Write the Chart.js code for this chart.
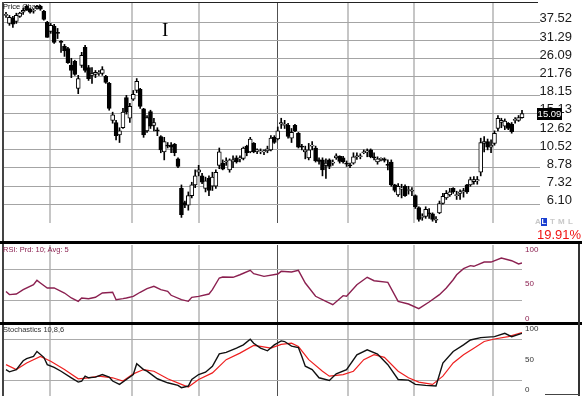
<!DOCTYPE html>
<html><head><meta charset="utf-8">
<script src="https://cdn.jsdelivr.net/npm/chart.js@4.4.1/dist/chart.umd.min.js"></script>
<style>
html,body{margin:0;padding:0;background:#fff;}
#wrap{position:relative;width:582px;height:396px;overflow:hidden;background:#fff;font-family:'Liberation Sans',Arial,sans-serif;}
.pane{position:absolute;left:0;width:582px;}
.ln{position:absolute;}
.tx{position:absolute;white-space:nowrap;line-height:1;}
</style></head><body>
<div id="wrap">
  <div class="pane" style="top:0;height:241px"><canvas id="cPrice" width="582" height="241"></canvas></div>
  <div class="pane" style="top:244px;height:78px"><canvas id="cRsi" width="582" height="78"></canvas></div>
  <div class="pane" style="top:325px;height:71px"><canvas id="cSto" width="582" height="71"></canvas></div>

  <div class="ln" style="left:2px;top:2px;width:536px;height:1px;background:#222"></div>
  <div class="ln" style="left:2px;top:2px;width:2px;height:394px;background:#444"></div>
  <div class="ln" style="left:0;top:241px;width:582px;height:3px;background:#000"></div>
  <div class="ln" style="left:0;top:322px;width:582px;height:3px;background:#000"></div>
  <div class="ln" style="left:578px;top:244px;width:2px;height:152px;background:#333"></div>
  <div class="ln" style="left:545px;top:394px;width:35px;height:1px;background:#444"></div>

  <div class="tx" style="left:3px;top:3px;font-size:7.5px;color:#111">Price Chart</div>
  <div class="tx" style="left:162px;top:20px;font-size:19px;font-family:'Liberation Serif',serif;color:#000">I</div>
  <div class="tx" style="left:3px;top:246px;font-size:7.5px;color:#8b2050">RSI: Prd: 10; Avg: 5</div>
  <div class="tx" style="left:3px;top:326px;font-size:7.5px;color:#333">Stochastics 10,8,6</div>
  <div class="tx" style="left:535px;top:218px;font-size:8px;font-weight:bold;color:#c8c8c8;letter-spacing:0">A</div>
  <div class="tx" style="left:541px;top:218px;width:6px;height:8px;background:#1a3fd0;font-size:8px;font-weight:bold;color:#fff;text-align:center">L</div>
  <div class="tx" style="left:550px;top:218px;font-size:8px;font-weight:bold;color:#c8c8c8;word-spacing:1px">T M L</div>
  <div class="tx" style="left:537px;top:228px;font-size:13px;color:#f01414">19.91%</div>
</div>
<script>
// ---------- data ----------
const priceTicks = [37.52, 31.29, 26.09, 21.76, 18.15, 15.13, 12.62, 10.52, 8.78, 7.32, 6.10];
const monthStarts = [12.8, 36.6, 56.1, 78.8, 99.4, 118.6, 141.6];
const yearStarts = [78.8];

const opens = [40.2,37.1,39.0,37.9,39.8,41.5,44.0,42.8,41.9,43.2,44.0,41.9,37.5,34.3,36.1,33.9,31.0,29.5,28.9,24.4,
25.4,19.4,24.4,29.2,23.9,22.1,22.3,22.5,22.5,21.9,20.4,14.1,13.8,12.2,13.1,17.7,14.4,17.4,19.0,19.2,
15.8,12.7,15.4,13.4,12.8,12.0,10.3,11.0,11.0,11.1,9.6,7.15,6.2,6.05,6.65,7.4,8.4,8.1,7.15,7.9,
7.3,7.3,9.0,9.2,9.3,8.6,9.3,9.7,9.6,9.65,10.9,10.3,11.2,10.4,10.3,10.3,10.4,10.5,11.9,11.7,
13.6,13.4,13.4,11.8,13.4,12.4,10.9,10.3,9.7,10.9,10.7,9.5,9.5,9.0,9.5,9.2,9.7,9.85,9.7,9.2,
9.0,9.2,9.8,9.8,10.2,10.3,10.5,9.8,9.3,9.55,9.6,9.1,9.3,7.4,6.7,7.1,7.3,7.0,6.95,6.65,
5.9,5.35,5.4,5.6,5.55,5.2,5.6,6.15,6.5,6.7,7.15,6.65,6.8,6.9,7.4,7.4,7.65,7.7,8.4,11.2,
11.4,10.8,11.2,13.0,13.8,13.3,13.7,13.55,14.1,14.1,14.5];
const highs = [41.5,40.2,39.8,41.1,41.5,43.2,44.5,43.2,42.8,44.5,44.5,42.3,37.9,37.1,36.8,35.3,31.3,30.1,29.2,26.2,
25.7,22.1,27.8,29.8,24.4,23.9,23.2,23.2,24.1,22.1,20.6,15.3,14.1,13.1,15.9,18.1,16.7,19.0,21.4,19.4,
15.9,14.8,15.6,14.4,13.1,12.1,11.9,11.3,11.3,11.2,9.7,7.4,6.3,6.9,7.6,8.6,9.0,8.3,8.0,8.1,
8.4,8.6,10.7,9.5,9.7,9.6,9.9,9.9,9.9,10.8,11.0,11.9,11.3,10.6,10.6,10.5,10.9,12.1,12.1,13.2,
14.4,14.1,13.7,13.0,13.55,12.5,11.1,10.9,11.2,11.4,10.9,9.7,9.7,9.6,9.6,9.5,10.1,9.9,9.85,9.4,
9.2,10.2,10.2,10.1,10.5,10.6,10.6,10.2,9.8,9.7,9.7,9.5,9.5,7.45,7.5,7.45,7.4,7.3,7.2,6.7,
5.95,5.55,5.95,5.85,5.6,5.4,6.3,6.8,7.0,7.15,7.2,6.95,7.05,7.15,7.45,8.0,8.05,8.05,11.8,12.0,
11.7,11.6,12.7,14.8,14.4,14.3,13.8,13.8,14.5,14.8,15.6];
const lows = [39.4,36.4,35.7,37.1,39.4,40.6,42.3,41.1,41.1,42.8,42.3,38.3,32.3,33.6,30.4,31.9,27.8,26.7,24.9,21.6,
22.1,18.4,23.9,22.8,21.0,20.4,21.6,22.1,22.1,20.4,15.6,13.7,11.6,11.3,13.0,15.0,13.8,17.2,18.6,15.9,
11.9,12.5,13.0,12.7,12.1,10.2,9.5,10.7,10.2,9.9,8.8,5.35,5.9,5.75,6.5,7.2,8.1,7.5,6.9,6.65,
7.0,7.15,8.7,8.6,9.0,8.4,8.8,9.2,9.3,9.5,9.9,10.2,10.2,10.1,10.1,10.0,10.2,10.4,11.2,11.6,
13.0,13.0,11.8,11.3,12.6,10.7,10.5,9.6,9.5,10.5,9.3,9.1,8.1,7.9,8.7,9.0,9.55,9.2,9.2,8.9,
8.8,9.1,9.55,9.6,10.1,9.8,9.7,9.5,9.1,9.4,9.3,8.6,7.3,6.9,6.6,6.5,6.6,6.75,6.65,5.85,
5.15,5.2,5.3,5.3,5.15,5.07,5.55,6.1,6.4,6.6,6.8,6.4,6.4,6.55,6.8,7.3,7.45,7.45,8.1,10.3,
10.5,10.2,11.0,12.7,13.1,12.85,12.85,12.4,13.7,13.95,14.4];
const closes = [40.6,39.4,36.8,40.2,41.1,42.3,42.3,41.5,42.0,44.0,42.8,38.6,32.3,36.4,30.7,33.6,30.7,28.3,25.1,23.2,
22.3,21.4,27.0,23.2,21.4,22.5,22.8,22.8,23.4,20.6,15.9,14.9,12.1,12.7,15.3,15.3,16.2,18.3,20.8,16.2,
12.2,14.5,13.3,13.8,12.7,10.5,11.4,10.9,10.8,10.2,8.9,5.5,6.05,6.65,7.4,8.1,8.6,7.6,7.7,7.0,
8.0,8.4,10.3,8.65,9.35,9.5,9.5,9.3,9.65,10.7,10.2,11.7,10.3,10.45,10.4,10.35,10.6,11.8,11.3,12.7,
13.8,13.55,12.0,12.5,12.7,10.8,10.8,10.5,10.5,11.0,9.4,9.35,8.6,9.2,8.9,9.3,9.9,9.35,9.3,9.1,
8.95,9.8,9.85,9.9,10.3,10.4,9.8,9.7,9.6,9.6,9.45,9.0,7.4,7.0,7.3,7.15,6.65,7.05,7.0,5.95,
5.25,5.4,5.8,5.55,5.25,5.25,6.15,6.6,6.8,6.9,6.9,6.7,6.9,7.0,6.9,7.8,7.8,7.8,11.3,11.4,
10.8,11.0,12.4,14.4,14.1,14.0,13.0,12.6,14.25,14.5,15.09];

const rsiGrid = [30, 70];
const rsiDays = [0,1,3,5,8,9,10,12,14,17,19,21,22,24,26,28,31,32,34,35,37,39,41,43,45,47,48,51,53,54,56,59,60,62,63,66,68,71,72,75,79,80,83,85,87,90,93,95,98,99,102,105,107,111,114,117,120,123,126,128,130,131,133,135,136,139,141,144,147,149,150];
const rsiValues = [41,37,37.7,43.3,49.7,55.4,52,45.5,45.5,39,32.6,28.3,32.6,31.7,33.5,39,40,30.4,31.7,32.6,34.7,40,44.6,47.6,43.3,41.2,36.1,30.4,28.3,33.5,34.7,37.7,43.3,58.4,59.7,59.3,62.6,68.3,63.9,60.5,63.5,67,66.1,68.3,51.9,34.8,28.3,23.9,35.6,34.8,49.7,59.3,54.9,52.8,28.3,24.8,18.8,27.4,36.9,45.5,56.2,62.6,70.4,74.3,73.5,79,79,84.2,80.7,76.5,77.7];

const stochGrid = [20, 80];
const stochKDays = [0,1,3,5,6,8,9,11,12,14,16,19,21,22,23,24,26,28,30,31,33,35,37,38,40,41,44,47,50,51,53,54,56,58,60,62,64,67,69,71,72,74,76,78,80,81,83,85,86,87,89,91,94,96,99,102,105,108,111,114,117,119,122,125,127,130,133,135,138,142,145,147,150];
const stochK = [36.2,32.9,36.2,49,51.9,55.2,62.4,53.9,43.3,39.5,33.8,24.3,18.1,19.6,26.7,24.3,25.3,29,25.3,19.6,14.8,21.9,29,44.7,36.2,33.8,22.9,17.1,13.3,10,12.4,21.9,29,32.4,41,59,61,67.1,71.9,80,74.3,67.1,63.3,71.9,77.6,76.7,70,68.1,55,41,36.2,24.3,20.4,30,36.2,57.6,64.7,58.6,43.3,21.9,21,14.8,13.3,12.4,45.7,62.4,71.9,79,82.4,83.8,88.6,83.8,88.6];
const stochDDays = [0,3,6,10,13,17,21,24,27,31,34,37,40,43,47,51,53,56,60,64,68,72,74,77,80,83,85,88,92,94,98,101,104,107,110,114,117,120,124,127,130,133,136,139,142,146,150];
const stochD = [43.3,36.2,45.7,55.2,48.1,36.2,22.9,24.3,26.7,24.3,19.6,30,36.2,33.8,22.9,14.8,11,21.9,31.4,50.5,60,71,69.6,67.1,72.6,74.3,69.5,50.5,33.8,26.7,29,33.8,50.5,57.6,53.9,33.8,24.3,18.1,14.8,26.7,45.7,57.6,67.1,76.7,80.4,83.8,89.5];

// ---------- charts ----------
Chart.defaults.font.family = "'Liberation Sans', Arial, sans-serif";
const days = opens.map((_, i) => i);
const wickData = days.map(i => ({x: i, y: [lows[i], highs[i]]}));
const bodyData = days.map(i => ({x: i, y: [Math.min(opens[i], closes[i]), Math.max(opens[i], closes[i])]}));
const bodyColors = days.map(i => closes[i] >= opens[i] ? '#ffffff' : '#000000');

function noPad(s) { s.paddingTop = 0; s.paddingBottom = 0; }

function xScale(max) {
  return {
    type: 'linear', min: -0.58, max: max, offset: false,
    grid: {
      offset: false,
      drawTicks: false,
      color: c => (c.tick && yearStarts.includes(c.tick.value)) ? '#505050' : '#c6c6c6',
      lineWidth: c => (c.tick && yearStarts.includes(c.tick.value)) ? 1 : 2
    },
    ticks: {display: false},
    border: {display: false},
    afterBuildTicks: s => { s.ticks = monthStarts.map(v => ({value: v})); },
    afterFit: s => { s.height = 0; s.paddingLeft = 0; s.paddingRight = 0; }
  };
}
const common = {
  responsive: false, animation: false, devicePixelRatio: 1, events: [],
  plugins: {legend: {display: false}, tooltip: {enabled: false}}
};

const lastPrice = {
  id: 'lastPrice',
  afterDraw(chart) {
    const ctx = chart.ctx, ys = chart.scales.y;
    const v = closes[closes.length - 1];
    const y = ys.getPixelForValue(v);
    const x = chart.chartArea.right - 3;
    ctx.save();
    ctx.fillStyle = '#000';
    ctx.fillRect(x, Math.round(y) - 6, 25, 12);
    ctx.fillStyle = '#fff';
    ctx.font = "9.5px 'Liberation Sans', Arial, sans-serif";
    ctx.textAlign = 'center'; ctx.textBaseline = 'middle';
    ctx.fillText(v.toFixed(2), x + 12.5, Math.round(y) + 0.5);
    ctx.restore();
  }
};

new Chart(document.getElementById('cPrice'), {
  type: 'bar',
  data: {datasets: [
    {data: bodyData, backgroundColor: bodyColors, borderColor: '#000', borderWidth: 1, borderSkipped: false,
     barThickness: 4, grouped: false, order: 0, minBarLength: 1},
    {data: wickData, backgroundColor: '#000', borderWidth: 0, barThickness: 1, grouped: false, order: 1}
  ]},
  options: Object.assign({}, common, {
    layout: {padding: {top: 3, left: 4, bottom: 18, right: 10}},
    scales: {
      x: xScale(155.23),
      y: {
        type: 'logarithmic', position: 'right', min: 5.06, max: 45.5,
        grid: {color: '#a4a4a4', lineWidth: 1, drawTicks: false},
        border: {display: false},
        ticks: {padding: 0, crossAlign: 'far', labelOffset: -3.5, autoSkip: false, color: '#1a1a1a',
          font: {family: "'Liberation Sans', Arial, sans-serif", size: 13},
          callback: v => Number(v).toFixed(2)},
        afterBuildTicks: s => { s.ticks = priceTicks.map(v => ({value: v})); },
        afterFit: s => { s.width = 32; noPad(s); }
      }
    }
  }),
  plugins: [lastPrice]
});

function panelY(min, max, grid) {
  return {
    position: 'left', min: min, max: max,
    grid: {color: '#ababab', lineWidth: 1, drawTicks: false},
    ticks: {display: false}, border: {display: false},
    afterBuildTicks: s => { s.ticks = grid.map(v => ({value: v})); },
    afterFit: s => { s.width = 0; noPad(s); }
  };
}
function labelY(min, max, color) {
  return {
    position: 'right', min: min, max: max,
    grid: {display: false, drawTicks: false}, border: {display: false},
    ticks: {padding: 3, color: color, autoSkip: false, font: {size: 8}},
    afterBuildTicks: s => { s.ticks = [0, 50, 100].map(v => ({value: v})); },
    afterFit: s => { s.width = 60; noPad(s); }
  };
}

new Chart(document.getElementById('cRsi'), {
  type: 'line',
  data: {datasets: [{data: rsiDays.map((d, k) => ({x: d, y: rsiValues[k]})), borderColor: '#8b2050',
    borderWidth: 1.4, pointRadius: 0, tension: 0, yAxisID: 'y'}]},
  options: Object.assign({}, common, {
    layout: {padding: {top: 1, left: 4, bottom: 0, right: 0}},
    scales: {x: xScale(150.0), y: panelY(1.6, 101, rsiGrid), yl: labelY(-5.1, 107.3, '#8b2050')}
  })
});

new Chart(document.getElementById('cSto'), {
  type: 'line',
  data: {datasets: [
    {data: stochKDays.map((d, k) => ({x: d, y: stochK[k]})), borderColor: '#111', borderWidth: 1.4, pointRadius: 0, tension: 0, yAxisID: 'y'},
    {data: stochDDays.map((d, k) => ({x: d, y: stochD[k]})), borderColor: '#ee2020', borderWidth: 1.2, pointRadius: 0, tension: 0, yAxisID: 'y'}
  ]},
  options: Object.assign({}, common, {
    layout: {padding: {top: 0, left: 4, bottom: 0, right: 0}},
    scales: {x: xScale(150.0), y: panelY(-2, 100.6, stochGrid), yl: labelY(-10.4, 106.6, '#333')}
  })
});
</script>
</body></html>
